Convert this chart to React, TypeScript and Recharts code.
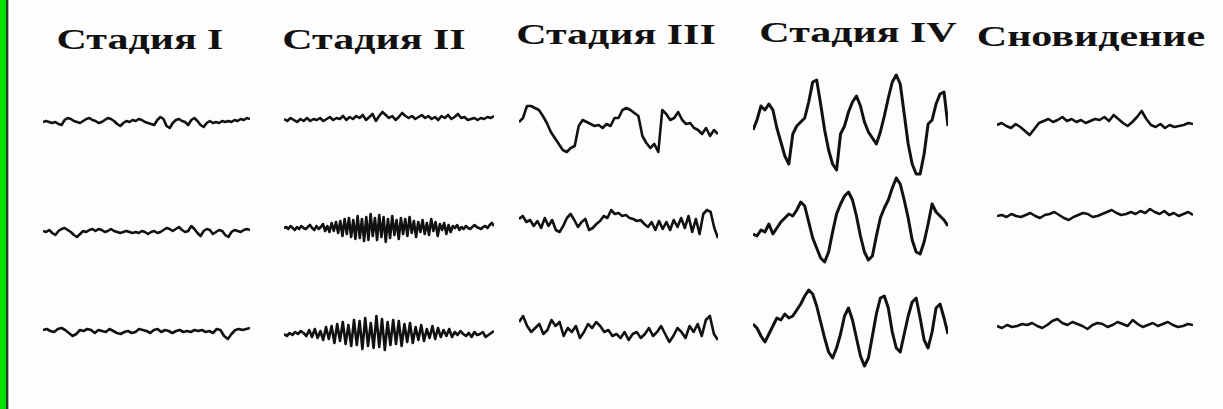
import React from 'react';
import { LineChart, Line, XAxis, YAxis } from 'recharts';

// column titles
const TITLES = ['Стадия I', 'Стадия II', 'Стадия III', 'Стадия IV', 'Сновидение'];

// EEG traces, pixel offsets from the trace centre (up = positive)
const stage1Row1 = [0, 1, 0, -1, 0, -2, -3, 2, 4, 3, 1, 0, -1, 1, 3, 4, 2, 1, -1, 0, 2, 4, 3, 1, -2, -4, -1, 1, 0, 2, 1, 3, 2, 0, -1, -2, -3, 2, 5, 3, -4, -6, -1, 2, 3, 1, 0, -3, 2, 4, 1, -3, -5, -1, 1, -1, 0, -1, 1, 0, 1, 0, 2, 1, 3, 2, 4, 3];
const stage1Row2 = [1, 0, 2, -1, -3, 1, 3, 4, 2, 0, -3, -5, -2, 1, 0, 2, 3, 1, 3, 2, 0, 1, 3, 1, 0, -1, 0, 1, 0, -1, 0, -1, 1, 0, -2, 0, 1, -1, 0, 2, 4, 3, 1, 3, 5, 2, 0, 1, 6, 3, -1, -4, 1, 3, 2, -2, 0, 2, 1, -3, -5, 0, 2, 1, 0, 2, 3, 2];
const stage1Row3 = [2, 3, 1, 0, 3, 4, 2, -1, -4, -2, 2, 1, 3, 2, -1, 2, 1, 0, 3, 1, -1, -2, 0, 1, -1, 0, 3, 2, 1, -1, 2, 3, 0, 2, 1, -1, 1, 2, 0, 1, 0, 2, 1, 2, 0, 1, -1, 3, 2, -4, -7, -2, 2, 3, 2, 3, 4];

const stage2Row1 = [0, -2, 1, -1, -3, 0, -2, 1, -2, 0, -1, 1, -2, 0, 2, -1, 1, 0, 3, -1, 2, 0, 3, 1, 4, -1, 2, 5, -2, 3, 7, 4, 1, 3, -1, 2, 6, 3, 1, 3, 0, 2, 4, 1, 3, 0, 2, -1, 3, 1, 4, 0, 2, 5, 1, 2, -1, 0, 1, -1, 1, 0, 2, 1, 3];
const stage2Row2 = [0, 1, -1, 2, 0, -2, 1, -1, 2, 0, -1, 1, 3, 0, -2, 2, -1, 1, 4, -3, 2, -4, 5, -3, 6, -5, 7, -8, 9, -6, 10, -9, 8, -11, 12, -10, 9, -13, 11, -12, 14, -8, 10, -12, 13, -9, 11, -14, 9, -10, 12, -7, 8, -11, 10, -6, 9, -8, 11, -5, 7, -9, 6, -4, 8, -6, 5, -7, 9, -3, 6, -8, 4, -2, 5, -6, 3, -4, 2, 0, 3, -2, 1, -1, 2, 0, -1, 1, 3, 1, 0, -1, 1, 2, 0, 3, 5, 2];
const stage2Row3 = [0, -2, 1, -1, 2, 0, 3, 1, -2, 4, -3, 5, -4, 3, -6, 7, -5, 8, -9, 10, -7, 12, -10, 9, -12, 14, -11, 13, -15, 16, -12, 11, -14, 18, -13, 15, -16, 12, -11, 14, -10, 13, -12, 10, -8, 11, -9, 7, -6, 9, -7, 5, -4, 8, -5, 6, -3, 4, -2, 5, -3, 2, -1, 3, 0, -2, 1, -3, 2, -1, 0, 2, -3, -1, 1, 3];

const stage3Row1 = [6, 10, 22, 22, 20, 18, 12, 5, -4, -10, -16, -22, -24, -20, -18, 2, 8, 6, 4, 2, 3, 0, 4, 2, 10, 10, 18, 20, 18, 15, 12, -8, -15, -20, -16, -24, 18, 14, 8, 10, 16, 8, 4, 5, 0, -2, -6, 0, -8, -2, -6];
const stage3Row2 = [5, 8, 2, 4, -2, 3, -4, 6, -2, 4, -6, -8, -2, 6, 10, 4, -3, 2, 5, -6, -4, 0, 3, 8, 6, 14, 10, 11, 8, 9, 6, 5, 3, 4, 0, -3, 2, -6, 3, -5, 2, -6, 4, -3, 6, -4, 8, -8, 5, -10, 10, 14, 12, -4, -14];
const stage3Row3 = [8, 14, 4, -2, 2, 6, -4, 0, 10, 4, 8, -6, 2, -2, 4, -8, -2, 6, 2, 8, 4, -2, 0, -6, -4, -8, -2, -10, -4, -2, -8, -4, 2, -6, -2, 4, -4, -12, -6, 2, -2, -8, 4, -2, 6, -6, 10, 14, -4, -10];

const stage4Row1 = [-6, 4, 18, 14, 20, 14, -4, -18, -32, -40, -10, -2, 2, 6, 22, 42, 44, 20, -6, -26, -40, -46, -10, -2, 12, 22, 28, 18, 2, -8, -14, -20, -8, 8, 26, 42, 49, 40, 10, -20, -40, -50, -50, -30, 0, 4, 20, 30, 32, -2];
const stage4Row2 = [-12, -14, -8, -10, -2, -12, -6, 0, 4, 8, 6, 12, 20, 16, 0, -16, -26, -36, -40, -30, -10, 8, 18, 26, 30, 22, 6, -14, -30, -38, -34, -14, 4, 14, 22, 34, 44, 38, 22, 4, -18, -30, -32, -20, -2, 18, 10, 6, 2, -4];
const stage4Row3 = [4, 0, -8, -14, -6, 2, 10, 8, 14, 10, 12, 18, 24, 32, 38, 34, 22, 6, -10, -24, -30, -20, -6, 12, 20, 8, -10, -28, -38, -30, -8, 14, 30, 32, 20, -4, -20, -24, -6, 12, 26, 30, 10, -12, -20, -4, 20, 24, 10, -6];

const dreamRow1 = [0, 2, -1, -3, 1, -2, -6, -10, -4, 2, 4, 6, 3, 5, 8, 4, 6, 3, 5, 2, 4, 6, 5, 8, 4, 10, 6, 2, -1, 3, 8, 14, 6, 0, -2, 1, -3, 0, -2, -1, 0, 2, 1];
const dreamRow2 = [0, 1, -1, 2, 0, -1, 1, 3, 0, -2, 1, 2, 4, 1, -2, -4, -1, 1, 3, 2, -1, 0, 2, 4, 6, 3, 1, 2, 4, 2, 5, 3, 7, 4, 2, 5, 1, 3, 0, 2, 4, 1];
const dreamRow3 = [0, -2, 1, -1, 0, 2, 1, 3, 0, -2, 1, 5, 7, 3, 1, 4, 2, 0, -3, 1, 3, 2, -1, 1, 4, 2, 0, 6, 2, -1, 1, 3, 0, 2, 4, 1, -1, 0, 2, 1];

const COLUMNS = [
  { title: TITLES[0], center: 140, titleTop: 22, rows: [stage1Row1, stage1Row2, stage1Row3], cy: [122, 232, 332], x: 43, w: 207, h: 40, sw: 2.6 },
  { title: TITLES[1], center: 374, titleTop: 22, rows: [stage2Row1, stage2Row2, stage2Row3], cy: [119, 228, 334], x: 284, w: 210, h: 50, sw: 2.6 },
  { title: TITLES[2], center: 616, titleTop: 17, rows: [stage3Row1, stage3Row2, stage3Row3], cy: [128, 224, 330], x: 519, w: 199, h: 60, sw: 2.6 },
  { title: TITLES[3], center: 858, titleTop: 15, rows: [stage4Row1, stage4Row2, stage4Row3], cy: [124, 222, 328], x: 753, w: 195, h: 110, sw: 3 },
  { title: TITLES[4], center: 1091, titleTop: 19, rows: [dreamRow1, dreamRow2, dreamRow3], cy: [125, 216, 326], x: 997, w: 196, h: 40, sw: 2.6 },
];

const Trace: React.FC<{ values: number[]; w: number; h: number; sw: number }> = ({ values, w, h, sw }) => {
  const data = values.map((v, i) => ({ i, v }));
  return (
    <LineChart width={w} height={h} data={data} margin={{ top: 0, right: 0, bottom: 0, left: 0 }}>
      <XAxis dataKey="i" hide type="number" domain={[0, values.length - 1]} />
      <YAxis hide domain={[-h / 2, h / 2]} allowDataOverflow />
      <Line type="linear" dataKey="v" stroke="#111" strokeWidth={sw} dot={false} isAnimationActive={false} strokeLinejoin="round" />
    </LineChart>
  );
};

export default function App() {
  return (
    <div style={{ position: 'fixed', left: 0, top: 0, width: 1223, height: 409, background: '#fdfdfd', overflow: 'hidden' }}>
      <div style={{ position: 'absolute', left: 0, top: 0, width: 6, height: 409, background: '#00e000' }} />
      <div style={{ position: 'absolute', left: 6, top: 0, width: 2, height: 409, background: '#2b3b2b' }} />
      <div style={{ position: 'absolute', left: 8, top: 0, width: 1, height: 409, background: '#b0b0b0' }} />
      {COLUMNS.map((col, ci) => (
        <React.Fragment key={ci}>
          <div
            style={{
              position: 'absolute',
              left: col.center - 150,
              top: col.titleTop,
              width: 300,
              textAlign: 'center',
              fontFamily: '"Liberation Serif", "DejaVu Serif", serif',
              fontWeight: 'bold',
              fontSize: 30,
              lineHeight: '34px',
              color: '#111',
              whiteSpace: 'nowrap',
              transform: 'scaleX(1.4)',
              transformOrigin: 'center',
            }}
          >
            {col.title}
          </div>
          {col.rows.map((vals, ri) => (
            <div key={ri} style={{ position: 'absolute', left: col.x, top: col.cy[ri] - col.h / 2 }}>
              <Trace values={vals} w={col.w} h={col.h} sw={col.sw} />
            </div>
          ))}
        </React.Fragment>
      ))}
    </div>
  );
}
